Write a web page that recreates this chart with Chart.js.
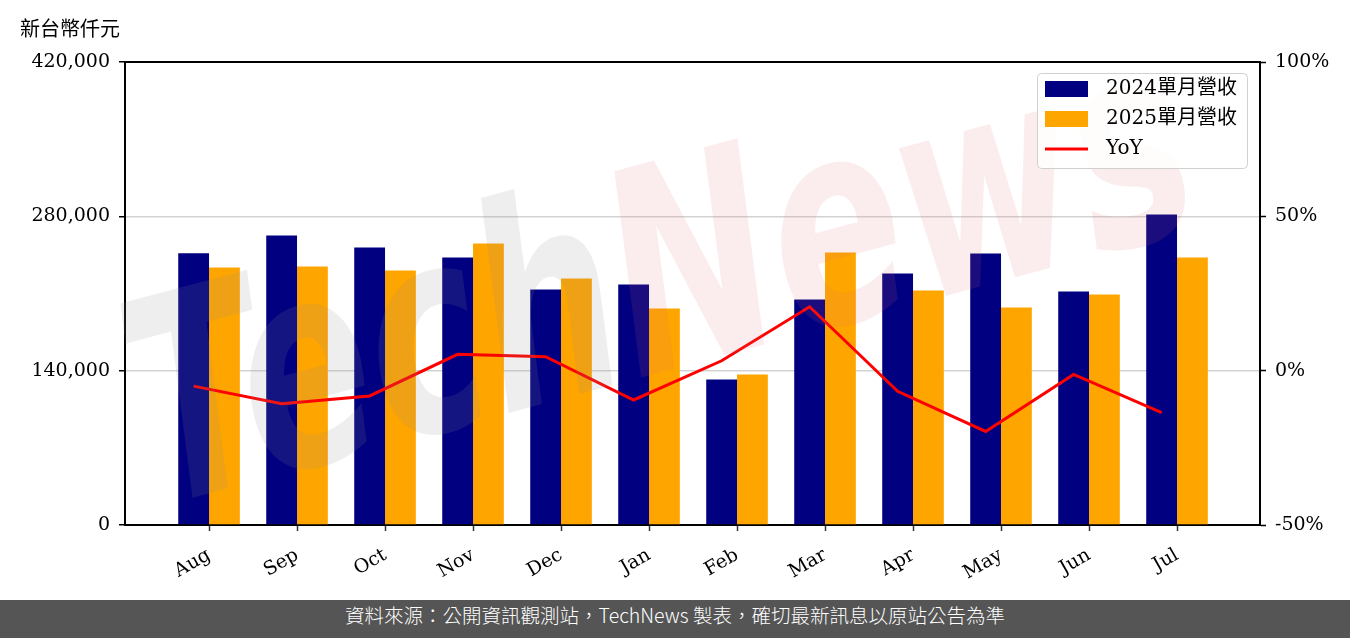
<!DOCTYPE html>
<html>
<head>
<meta charset="utf-8">
<script src="https://cdn.jsdelivr.net/npm/chart.js@4"></script>
<style>
    body { margin: 0; background: #fff; }
    .chart-box { position: relative; width: 1350px; height: 600px; }
    .footer {
        width: 1350px; height: 38px; line-height: 38px;
        background: #555555; color: #fff; text-align: center;
        font: 300 19.5px "Noto Sans CJK TC", "Noto Sans", sans-serif;
    }
</style>
</head>
<body>
<div class="chart-box"><canvas id="chart-1"></canvas></div>
<div class="footer">資料來源：公開資訊觀測站，TechNews 製表，確切最新訊息以原站公告為準</div>
<script>
// data (新台幣仟元)
const months = ['Aug', 'Sep', 'Oct', 'Nov', 'Dec', 'Jan', 'Feb', 'Mar', 'Apr', 'May', 'Jun', 'Jul'];
const rev2024 = [246500, 262600, 251700, 242700, 213600, 218200, 132000, 204600, 228100, 246300, 211800, 281700];
const rev2025 = [233600, 234500, 230900, 255400, 223600, 196400, 136500, 247200, 212700, 197300, 209100, 242700];
const yoy = [-5.0, -10.7, -8.2, 5.3, 4.5, -9.5, 3.2, 20.7, -6.7, -19.7, -1.2, -13.6];
const revTicks = [0, 140000, 280000, 420000];
const yoyTicks = [-50, 0, 50, 100];

const chart1 = document.querySelector('#chart-1');
const serif = '"DejaVu Serif", "Noto Sans CJK TC", serif';

// the line points sit on the centre of the 2024 bar
const yoyOffset = -0.175;

const extrasPlugin = {
    id: 'extras',
    afterDatasetsDraw(chart) {
        // TechNews watermark
        const ctx = chart.ctx;
        ctx.save();
        ctx.translate(665, 295);
        ctx.rotate(-15 * Math.PI / 180);
        ctx.scale(1, 1.45);
        ctx.font = 'italic bold 195px "DejaVu Sans"';
        ctx.textBaseline = 'middle';
        const w1 = ctx.measureText('Tech').width;
        const w2 = ctx.measureText('News').width;
        const start = -(w1 + w2) / 2;
        ctx.fillStyle = 'rgba(140, 140, 140, 0.15)';
        ctx.fillText('Tech', start, 0);
        ctx.fillStyle = 'rgba(225, 110, 110, 0.12)';
        ctx.fillText('News', start + w1, 0);
        ctx.restore();
    },
    afterDraw(chart) {
        const ctx = chart.ctx;
        const area = chart.chartArea;
        ctx.save();
        // top spine
        ctx.strokeStyle = '#000';
        ctx.lineWidth = 2;
        ctx.beginPath();
        ctx.moveTo(area.left - 1, area.top);
        ctx.lineTo(area.right + 1, area.top);
        ctx.stroke();

        // unit label
        ctx.fillStyle = '#000';
        ctx.font = '20px "Noto Sans CJK TC"';
        ctx.textBaseline = 'middle';
        ctx.fillText('新台幣仟元', 20, 28);

        // legend box
        const lx = 1037, ly = 73, lw = 210, lh = 95;
        ctx.fillStyle = 'rgba(255,255,255,0.85)';
        ctx.strokeStyle = '#d0d0d0';
        ctx.lineWidth = 1;
        ctx.beginPath();
        ctx.roundRect(lx + 0.5, ly + 0.5, lw, lh, 4);
        ctx.fill();
        ctx.stroke();

        ctx.font = '20px ' + serif;
        chart.data.datasets.forEach((ds, i) => {
            const cy = 89 + i * 30;
            if (ds.type === 'line') {
                ctx.strokeStyle = ds.borderColor;
                ctx.lineWidth = 3;
                ctx.beginPath();
                ctx.moveTo(1045, cy);
                ctx.lineTo(1088, cy);
                ctx.stroke();
            } else {
                ctx.fillStyle = ds.backgroundColor;
                ctx.fillRect(1045, cy - 8, 43, 16);
            }
            ctx.fillStyle = '#000';
            ctx.fillText(ds.label, 1106, cy);
        });
        ctx.restore();
    }
};

function createChart(canvasElement) {
    new Chart(canvasElement, {
        data: {
            datasets: [{
                type: 'bar',
                label: '2024單月營收',
                data: months.map((m, i) => ({ x: i, y: rev2024[i] })),
                backgroundColor: '#000080',
                yAxisID: 'y',
                order: 1,
                categoryPercentage: 0.7,
                barPercentage: 1.0
            }, {
                type: 'bar',
                label: '2025單月營收',
                data: months.map((m, i) => ({ x: i, y: rev2025[i] })),
                backgroundColor: '#FFA500',
                yAxisID: 'y',
                order: 1,
                categoryPercentage: 0.7,
                barPercentage: 1.0
            }, {
                type: 'line',
                label: 'YoY',
                data: months.map((m, i) => ({ x: i + yoyOffset, y: yoy[i] })),
                borderColor: '#FF0000',
                borderWidth: 3,
                pointRadius: 0,
                tension: 0,
                yAxisID: 'y1',
                order: 0
            }]
        },
        options: {
            responsive: true,
            maintainAspectRatio: false,
            animation: false,
            layout: { padding: { top: 62, left: 0, right: 0, bottom: 0 } },
            plugins: {
                legend: { display: false },
                tooltip: { enabled: false }
            },
            scales: {
                x: {
                    type: 'linear',
                    min: -0.955,
                    max: 11.943,
                    offset: false,
                    afterBuildTicks: scale => { scale.ticks = months.map((m, i) => ({ value: i })); },
                    afterFit: scale => { scale.height = 75; },
                    ticks: {
                        callback: v => months[v],
                        minRotation: 30,
                        maxRotation: 30,
                        padding: 13,
                        color: '#000',
                        font: { family: serif, size: 19 }
                    },
                    grid: { offset: false, drawOnChartArea: false, tickLength: 6, tickWidth: 1.5, tickColor: '#333' },
                    border: { color: '#000', width: 2 }
                },
                y: {
                    position: 'left',
                    min: 0,
                    max: 420000,
                    afterBuildTicks: scale => { scale.ticks = revTicks.map(v => ({ value: v })); },
                    afterFit: scale => { scale.width = 125; },
                    ticks: {
                        callback: v => v.toLocaleString('en-US'),
                        padding: 9,
                        color: '#000',
                        font: { family: serif, size: 19 }
                    },
                    grid: {
                        color: c => (c.tick.value === 140000 || c.tick.value === 280000) ? '#d3d3d3' : 'rgba(0,0,0,0)',
                        lineWidth: 1.5,
                        tickLength: 6,
                        tickColor: '#000',
                        tickWidth: 1.5
                    },
                    border: { color: '#000', width: 2 }
                },
                y1: {
                    position: 'right',
                    min: -50,
                    max: 100,
                    afterBuildTicks: scale => { scale.ticks = yoyTicks.map(v => ({ value: v })); },
                    afterFit: scale => { scale.width = 90; },
                    ticks: {
                        callback: v => v + '%',
                        padding: 9,
                        color: '#000',
                        font: { family: serif, size: 19 }
                    },
                    grid: { drawOnChartArea: false, tickLength: 6, tickColor: '#000', tickWidth: 1.5 },
                    border: { color: '#000', width: 2 }
                }
            }
        },
        plugins: [extrasPlugin]
    });
}

createChart(chart1);
</script>
</body>
</html>
